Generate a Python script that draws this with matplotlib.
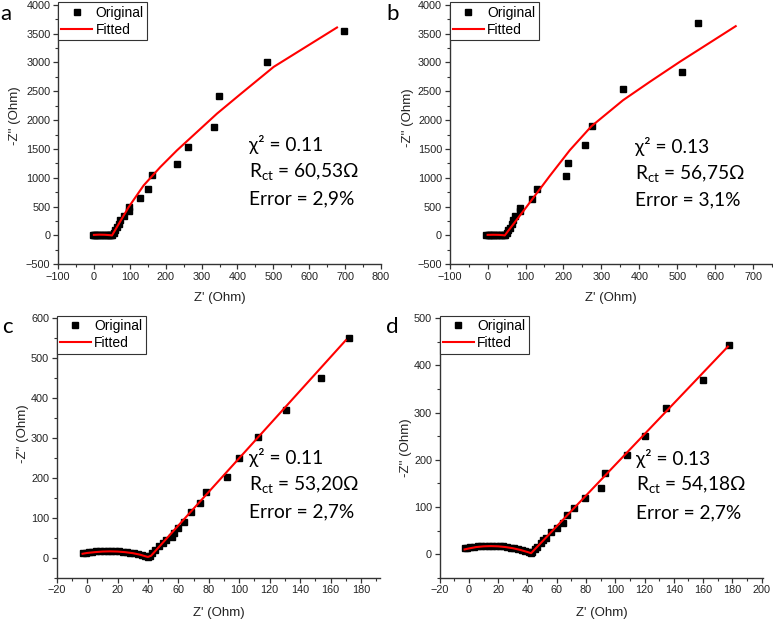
import matplotlib
matplotlib.use("Agg")
import matplotlib.pyplot as plt
from matplotlib.ticker import MultipleLocator

plt.rcParams['font.family'] = ['Liberation Sans', 'DejaVu Sans']
plt.rcParams['mathtext.fontset'] = 'custom'
plt.rcParams['mathtext.rm'] = 'Lato'

# dados (Z' , -Z'')
# painel a
a_orig_x = [-3, 0, 3, 6, 10, 14, 18, 22, 26, 30, 34, 38, 42, 45, 48,
            50, 55, 60, 64, 69, 74, 83, 97, 97, 128, 150, 163, 232, 261, 336, 348, 482, 696]
a_orig_y = [8, 10, 12, 13, 14, 15, 15, 15, 14, 13, 12, 10, 8, 5, 3,
            12, 40, 87, 145, 190, 260, 330, 417, 492, 648, 800, 1053, 1233, 1530, 1880, 2413, 3000, 3547]
a_fit_x = [0, 15, 30, 45, 50.5, 96.9, 138.7, 185.1, 231.6, 287.3, 343.0, 408.0, 500.9, 677.4]
a_fit_y = [10, 14, 12, 5, 0, 492, 868, 1186, 1476, 1794, 2112, 2448, 2922, 3605]

# painel b
b_orig_x = [-3, 0, 3, 6, 10, 14, 18, 22, 26, 30, 34, 38, 42,
            45, 50, 54, 58, 63, 67, 73, 85, 85, 117, 131, 206, 213, 256, 274, 357, 513, 555]
b_orig_y = [8, 10, 12, 13, 14, 14, 14, 13, 12, 11, 9, 6, 3,
            12, 46, 87, 133, 190, 260, 330, 417, 480, 637, 810, 1024, 1256, 1574, 1904, 2540, 2836, 3686]
b_fit_x = [0, 15, 30, 40, 45.1, 102.2, 163.7, 216.5, 273.6, 357.1, 427.5, 506.6, 654.3]
b_fit_y = [10, 12, 10, 5, 0, 492, 1030, 1476, 1892, 2344, 2662, 3009, 3628]

# painel c
c_orig_x = [-3, -1, 1, 3.5, 6, 8.5, 11, 13.5, 16, 18.5, 21, 23.5, 26, 28.5, 31, 33.5, 36, 38, 40,
            41, 42.5, 44.7, 47.5, 50, 52, 56, 57, 60, 64, 68, 74, 78, 92, 100, 112, 131, 154, 172]
c_orig_y = [12, 13, 14, 15, 16, 16.5, 17, 17, 17, 16.5, 16, 15, 14, 12.5, 11, 9, 7, 5, 3,
            5, 11, 19, 29, 36, 44, 53, 63, 75, 90, 114, 136, 165, 203, 251, 303, 369, 451, 551]
c_fit_x = [-3, 0, 5, 10, 15, 20, 25, 30, 35, 38, 40, 42, 170]
c_fit_y = [10, 12, 14, 15.5, 16, 15.5, 14, 11.5, 7.5, 4, 2, 5, 545]

# painel d
d_orig_x = [-3, -1, 1, 3.5, 6, 8.5, 11, 13.5, 16, 18.5, 21, 23.5, 26, 28.5, 31, 33.5, 36, 38.5, 41, 42.5,
            43.4, 45, 46.8, 49.5, 50.7, 53, 56, 60, 64, 67, 72, 79, 90, 93, 108, 120, 135, 160, 178]
d_orig_y = [12, 13, 14.5, 15.5, 16.5, 17, 17.5, 18, 18, 17.5, 17, 16.5, 15.5, 14, 12.5, 11, 9, 7, 4, 3,
            5, 10, 16, 23, 30, 35, 47, 56, 66, 83, 97, 118, 141, 171, 210, 251, 309, 370, 443]
d_fit_x = [-3, 0, 5, 10, 15, 20, 25, 30, 35, 40, 42.5, 177]
d_fit_y = [10, 12, 15, 16.5, 17, 16.5, 15, 12.5, 9, 4.5, 2, 440]

letters = ['a', 'b', 'c', 'd']
chi2 = ['0.11', '0.13', '0.11', '0.13']
rct = ['60,53', '56,75', '53,20', '54,18']
erro = ['2,9', '3,1', '2,7', '2,7']

W, H = 773, 619
fig = plt.figure(figsize=(W / 100, H / 100), dpi=100)

# posicoes dos eixos em pixels: esquerda, topo, direita, base
boxes = [(58, 4.7, 381, 264.3), (449.7, 4.7, 772, 264.3),
         (56.7, 318.3, 380, 577.7), (439.7, 318.3, 763, 577.7)]
xlims = [(-100, 800), (-100, 750), (-20, 192.5), (-20, 201)]
ylims = [(-500, 4000), (-500, 4000), (-50, 600), (-50, 500)]
xstep = [(100, 50), (100, 50), (20, 10), (20, 10)]
ystep = [(500, 250), (500, 250), (100, 50), (100, 50)]
ylab_pos = [(-0.133, 0.571), (-0.129, 0.564), (-0.103, 0.557), (-0.105, 0.5)]
xlab_y = [-0.131, -0.131, -0.135, -0.135]
# texto: x esquerda e linhas de base (px)
txt_x = [249.3, 634.7, 249.3, 635.7]
txt_base = [(151, 177.5, 204), (153, 179.5, 205), (464.3, 490.7, 517.3), (465, 490.7, 518.3)]
let_pos = [(0, 20), (386, 20), (2, 333), (386, 333)]

data = [(a_orig_x, a_orig_y, a_fit_x, a_fit_y), (b_orig_x, b_orig_y, b_fit_x, b_fit_y),
        (c_orig_x, c_orig_y, c_fit_x, c_fit_y), (d_orig_x, d_orig_y, d_fit_x, d_fit_y)]

calib = ['Lato', 'DejaVu Sans']

for i in range(4):
    l, t, r, b = boxes[i]
    ax = fig.add_axes([l / W, 1 - b / H, (r - l) / W, (b - t) / H])
    ox, oy, fx, fy = data[i]
    ax.plot(ox, oy, 's', color='black', markersize=3.8, label='Original', zorder=2)
    ax.plot(fx, fy, '-', color='#ff0000', linewidth=1.5, label='Fitted', zorder=3)
    ax.set_xlim(*xlims[i])
    ax.set_ylim(*ylims[i])
    ax.xaxis.set_major_locator(MultipleLocator(xstep[i][0]))
    ax.xaxis.set_minor_locator(MultipleLocator(xstep[i][1]))
    ax.yaxis.set_major_locator(MultipleLocator(ystep[i][0]))
    ax.yaxis.set_minor_locator(MultipleLocator(ystep[i][1]))
    ax.spines['top'].set_visible(False)
    ax.spines['right'].set_visible(False)
    for s in ['left', 'bottom']:
        ax.spines[s].set_color('#333333')
        ax.spines[s].set_linewidth(1.0)
    ax.tick_params(which='major', direction='out', length=3.5, width=0.9, colors='#333333',
                   labelsize=7.8, labelcolor='#222222', pad=2)
    ax.tick_params(which='minor', direction='out', length=2, width=0.8, colors='#333333')
    ax.set_xlabel("Z' (Ohm)", fontsize=9.5, color='#222222')
    ax.set_ylabel("-Z'' (Ohm)", fontsize=9.5, color='#222222')
    ax.xaxis.label.set_va('center')
    ax.yaxis.label.set_va('center')
    ax.xaxis.set_label_coords(0.5, xlab_y[i])
    ax.yaxis.set_label_coords(*ylab_pos[i])

    leg = ax.legend(loc='upper left', bbox_to_anchor=(0, 1.01), borderaxespad=0, fontsize=10,
                    numpoints=1, handlelength=2.2, handletextpad=0.25, labelspacing=0.22,
                    borderpad=0.25, fancybox=False, framealpha=1, edgecolor='#333333')
    leg.get_frame().set_linewidth(0.8)

    # anotacoes
    xt = txt_x[i] / W
    b1, b2, b3 = txt_base[i]
    fs = 13.8
    fig.text(xt, 1 - b1 / H, "χ² = " + chi2[i], fontsize=fs, family=calib, va='baseline')
    fig.text(xt, 1 - b2 / H, r"R$_{\mathregular{ct}}$ = " + rct[i] + "Ω", fontsize=fs,
             family='Lato', va='baseline')
    fig.text(xt, 1 - b3 / H, "Error = " + erro[i] + "%", fontsize=fs, family=calib, va='baseline')
    fig.text(let_pos[i][0] / W, 1 - let_pos[i][1] / H, letters[i], fontsize=16, family=calib,
             va='baseline')

fig.savefig('out.png', dpi=100)
